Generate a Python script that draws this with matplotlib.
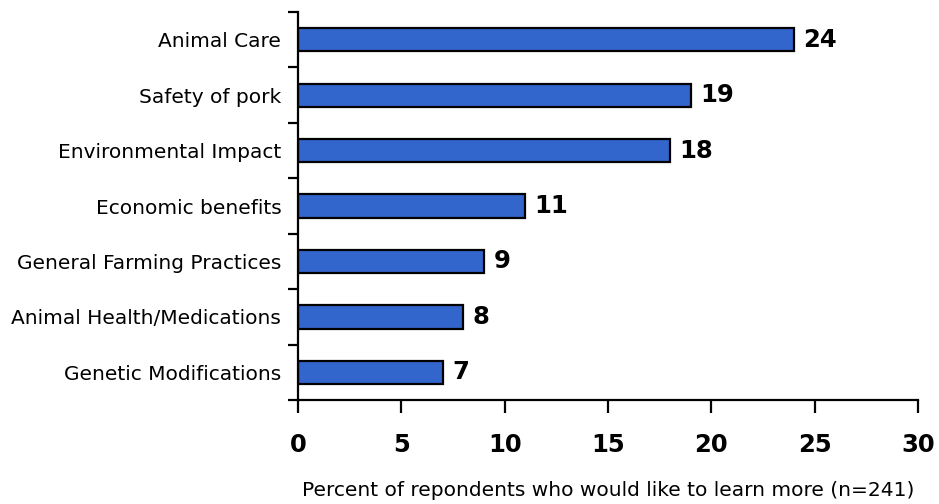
import matplotlib
matplotlib.use('Agg')
import matplotlib.pyplot as plt
import numpy as np

# data
categories = ['Animal Care', 'Safety of pork', 'Environmental Impact', 'Economic benefits',
              'General Farming Practices', 'Animal Health/Medications', 'Genetic Modifications']
percents = [24, 19, 18, 11, 9, 8, 7]
x_ticks = [0, 5, 10, 15, 20, 25, 30]
x_label = 'Percent of repondents who would like to learn more (n=241)'

plt.rcParams['font.family'] = 'DejaVu Sans'

fig = plt.figure(figsize=(9.39, 5.04), dpi=100)
ax = fig.add_axes([0.3174, 0.2063, 0.6602, 0.7699])

pos = np.arange(len(categories))[::-1]
ax.barh(pos, percents, height=0.42, color='#3366cc', edgecolor='black', linewidth=1.6)

for p, v in zip(pos, percents):
    ax.text(v + 0.45, p, str(v), va='center', ha='left', fontsize=17.5, fontweight='bold')

ax.set_xlim(0, 30)
ax.set_ylim(-0.5, len(categories) - 0.5)
ax.set_xticks(x_ticks)
ax.set_xticklabels([str(t) for t in x_ticks], fontsize=17.5, fontweight='bold')
ax.tick_params(axis='x', length=9, width=1.6, pad=15, direction='out')

ax.set_yticks(pos)
ax.set_yticklabels(categories, fontsize=14.5)
ax.tick_params(axis='y', which='major', length=0, pad=12)
ax.set_yticks(np.arange(-0.5, len(categories), 1.0), minor=True)
ax.tick_params(axis='y', which='minor', length=7, width=1.6, direction='out')

for s in ['top', 'right']:
    ax.spines[s].set_visible(False)
for s in ['left', 'bottom']:
    ax.spines[s].set_linewidth(1.6)

ax.set_xlabel(x_label, fontsize=14.5, labelpad=17)

plt.savefig('out.png', dpi=100)
